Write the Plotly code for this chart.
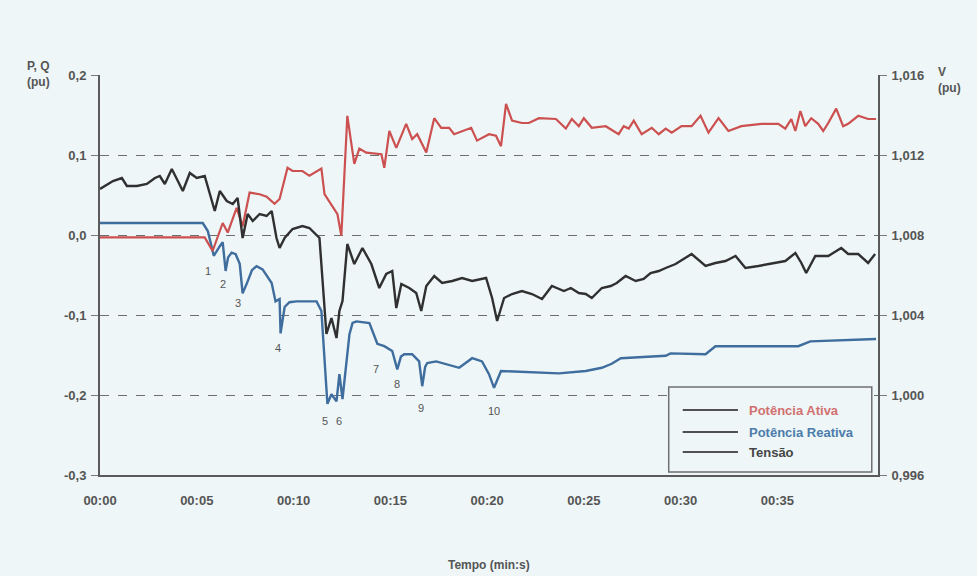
import plotly.graph_objects as go

# ---------------- data ----------------
# time in seconds (axis shows mm:ss)
t_p = [0, 5.41, 5.82, 6.34, 6.60, 7.06, 7.37, 7.73, 8.25, 8.61, 9.02, 9.28, 9.69, 9.95,
       10.46, 10.82, 11.44, 11.60, 12.27, 12.47, 12.78, 13.14, 13.40, 13.76, 14.54, 14.69,
       14.95, 15.31, 15.82, 16.13, 16.39, 16.86, 17.27, 17.63, 18.04, 18.30, 19.18, 19.48,
       20.10, 20.46, 20.72, 20.98, 21.29, 21.80, 22.16, 22.68, 23.56, 24.07, 24.38, 24.74,
       25.00, 25.41, 26.13, 26.80, 27.06, 27.32, 27.58, 27.99, 28.51, 28.87, 29.23, 29.54,
       30.05, 30.57, 31.03, 31.44, 31.96, 32.47, 33.14, 34.18, 35.05, 35.41, 35.72, 35.93,
       36.19, 36.44, 36.75, 37.11, 37.37, 37.63, 38.04, 38.40, 38.66, 39.18, 39.69, 40.10]
p_ativa = [-0.003, -0.003, -0.020, 0.015, 0.003, 0.034, 0.011, 0.053, 0.051, 0.048, 0.039,
           0.045, 0.084, 0.080, 0.080, 0.074, 0.083, 0.051, 0.026, -0.001, 0.149, 0.089,
           0.108, 0.103, 0.101, 0.084, 0.130, 0.109, 0.139, 0.120, 0.126, 0.103, 0.146,
           0.134, 0.134, 0.126, 0.134, 0.118, 0.126, 0.124, 0.111, 0.164, 0.143, 0.140,
           0.140, 0.146, 0.145, 0.133, 0.145, 0.136, 0.146, 0.134, 0.136, 0.126, 0.136,
           0.133, 0.143, 0.126, 0.134, 0.126, 0.133, 0.128, 0.136, 0.136, 0.149, 0.128,
           0.146, 0.130, 0.136, 0.139, 0.139, 0.133, 0.145, 0.130, 0.155, 0.136, 0.146,
           0.139, 0.130, 0.140, 0.158, 0.136, 0.139, 0.149, 0.145, 0.145]

t_q = [0, 5.31, 5.57, 5.88, 6.19, 6.34, 6.49, 6.62, 6.80, 7.01, 7.22, 7.37, 7.63, 7.85,
       8.09, 8.40, 8.87, 9.07, 9.28, 9.33, 9.54, 9.79, 10.15, 11.19, 11.44, 11.75, 11.96,
       12.22, 12.37, 12.53, 12.89, 13.05, 13.25, 13.92, 14.33, 14.69, 15.10, 15.36, 15.55,
       15.72, 16.13, 16.49, 16.65, 16.80, 16.91, 17.37, 18.56, 19.23, 19.74, 20.10, 20.36,
       20.72, 23.71, 25.10, 25.93, 26.44, 26.91, 29.23, 29.48, 31.29, 31.80, 36.08, 36.70,
       40.10]
q_reativa = [0.015, 0.015, 0.005, -0.026, -0.014, -0.009, -0.045, -0.028, -0.022, -0.024,
             -0.036, -0.073, -0.058, -0.044, -0.039, -0.043, -0.060, -0.083, -0.080, -0.123,
             -0.090, -0.084, -0.083, -0.083, -0.095, -0.211, -0.199, -0.208, -0.174, -0.205,
             -0.124, -0.110, -0.108, -0.110, -0.136, -0.139, -0.145, -0.168, -0.152, -0.149,
             -0.149, -0.158, -0.189, -0.165, -0.160, -0.158, -0.166, -0.154, -0.158, -0.174,
             -0.191, -0.170, -0.173, -0.170, -0.166, -0.161, -0.154, -0.151, -0.148, -0.149,
             -0.139, -0.139, -0.133, -0.130]

t_v = [0, 0.67, 1.13, 1.39, 1.91, 2.42, 2.84, 3.09, 3.35, 3.71, 3.97, 4.28, 4.64, 5.00,
       5.41, 5.67, 5.93, 6.19, 6.55, 6.86, 7.11, 7.37, 7.63, 7.89, 8.25, 8.61, 8.87, 9.12,
       9.28, 9.54, 9.95, 10.46, 10.82, 11.34, 11.70, 11.96, 12.22, 12.37, 12.53, 12.78,
       13.14, 13.56, 14.02, 14.43, 14.79, 15.10, 15.31, 15.57, 15.98, 16.34, 16.60, 16.86,
       17.27, 17.68, 18.20, 18.71, 19.23, 19.95, 20.26, 20.52, 20.88, 21.29, 21.80, 22.32,
       22.84, 23.35, 23.97, 24.33, 24.74, 25.10, 25.41, 25.93, 26.39, 26.70, 27.16, 27.68,
       28.09, 28.45, 28.87, 29.23, 29.74, 30.57, 31.29, 31.80, 32.32, 32.84, 33.35, 34.02,
       34.90, 35.41, 35.93, 36.24, 36.49, 36.96, 37.63, 38.30, 38.66, 39.18, 39.69, 40.05]
tensao = [1.0103, 1.0107, 1.01085, 1.01045, 1.01045, 1.01055, 1.01085, 1.01095, 1.01055,
          1.0113, 1.0108, 1.0102, 1.0111, 1.01085, 1.01095, 1.01005, 1.0092, 1.0102, 1.0097,
          1.00955, 1.00985, 1.00785, 1.00905, 1.0087, 1.00905, 1.00895, 1.0092, 1.00785,
          1.00735, 1.00785, 1.0083, 1.00845, 1.00835, 1.00785, 1.00305, 1.00385, 1.00285,
          1.0042, 1.0047, 1.00755, 1.00655, 1.00735, 1.00655, 1.00535, 1.00605, 1.0062,
          1.00435, 1.00555, 1.00535, 1.0051, 1.0042, 1.00545, 1.00595, 1.0056, 1.0057,
          1.00585, 1.0057, 1.00585, 1.00485, 1.0037, 1.00485, 1.00505, 1.0052, 1.00505,
          1.0048, 1.00545, 1.0052, 1.00535, 1.0051, 1.00505, 1.00485, 1.00535, 1.00545,
          1.0056, 1.00595, 1.0057, 1.0058, 1.0061, 1.0062, 1.00635, 1.00655, 1.00705,
          1.00645, 1.0066, 1.0067, 1.00695, 1.00635, 1.00645, 1.0066, 1.0067, 1.0071,
          1.0066, 1.0061, 1.00695, 1.00695, 1.00735, 1.00705, 1.00705, 1.0066, 1.00705]

x_tickvals = [0, 5, 10, 15, 20, 25, 30, 35]
x_ticktext = ["00:00", "00:05", "00:10", "00:15", "00:20", "00:25", "00:30", "00:35"]
pq_tickvals = [0.2, 0.1, 0.0, -0.1, -0.2, -0.3]
pq_ticktext = ["0,2", "0,1", "0,0", "-0,1", "-0,2", "-0,3"]
v_tickvals = [1.016, 1.012, 1.008, 1.004, 1.000, 0.996]
v_ticktext = ["1,016", "1,012", "1,008", "1,004", "1,000", "0,996"]

event_labels = ["1", "2", "3", "4", "5", "6", "7", "8", "9", "10"]
event_t = [5.57, 6.34, 7.11, 9.18, 11.60, 12.37, 14.28, 15.36, 16.60, 20.36]
event_q = [-0.045, -0.061, -0.085, -0.141, -0.2325, -0.2325, -0.1675, -0.186, -0.216, -0.22]

series_names = ["Potência Ativa", "Potência Reativa", "Tensão"]
series_colors = ["#cc5050", "#3e6d9e", "#303030"]
legend_text_colors = ["#d27070", "#4c7cab", "#454545"]

# ---------------- figure ----------------
BG = "#eef6f7"
FONT = "Liberation Sans Narrow, Arial Narrow, Liberation Sans, Arial, sans-serif"
TICKCOL = "#555555"

fig = go.Figure()
fig.add_trace(go.Scatter(x=t_v, y=tensao, mode="lines", yaxis="y2",
                         line=dict(color=series_colors[2], width=2.4), name=series_names[2]))
fig.add_trace(go.Scatter(x=t_q, y=q_reativa, mode="lines",
                         line=dict(color=series_colors[1], width=2.4), name=series_names[1]))
fig.add_trace(go.Scatter(x=t_p, y=p_ativa, mode="lines",
                         line=dict(color=series_colors[0], width=2.2), name=series_names[0]))

tickfont = dict(family=FONT, size=13, color=TICKCOL, weight="bold")

fig.update_layout(
    width=977, height=576,
    margin=dict(l=100, r=99, t=75, b=101),
    paper_bgcolor=BG, plot_bgcolor=BG,
    showlegend=False,
    xaxis=dict(range=[0, 40.2], tickvals=x_tickvals, ticktext=x_ticktext,
               showgrid=False, zeroline=False, showline=True, linecolor="#5a5a5a",
               linewidth=2, ticks="", tickfont=tickfont, ticklabelstandoff=12),
    yaxis=dict(range=[-0.3, 0.2], tickvals=pq_tickvals, ticktext=pq_ticktext,
               showgrid=True, gridcolor="#6e6e6e", griddash="dash", gridwidth=1,
               zeroline=False, showline=True, linecolor="#5a5a5a", linewidth=2,
               ticks="outside", ticklen=7, tickcolor="#7a7a7a", tickwidth=1,
               tickfont=tickfont, ticklabelstandoff=2),
    yaxis2=dict(range=[0.996, 1.016], tickvals=v_tickvals, ticktext=v_ticktext,
                overlaying="y", side="right", showgrid=False, zeroline=False,
                showline=True, linecolor="#5a5a5a", linewidth=2,
                ticks="outside", ticklen=7, tickcolor="#7a7a7a", tickwidth=1,
                tickfont=tickfont, ticklabelstandoff=2),
)

annos = []
# axis titles
annos.append(dict(text="<b>P, Q<br>(pu)</b>", xref="paper", yref="paper",
                  x=-0.062, y=1.045, xanchor="right", yanchor="top", showarrow=False,
                  align="left", font=dict(family=FONT, size=12, color=TICKCOL)))
annos.append(dict(text="<b>V<br>(pu)</b>", xref="paper", yref="paper",
                  x=1.075, y=1.03, xanchor="left", yanchor="top", showarrow=False,
                  align="left", font=dict(family=FONT, size=12, color=TICKCOL)))
annos.append(dict(text="<b>Tempo (min:s)</b>", xref="paper", yref="paper",
                  x=0.5, y=-0.225, xanchor="center", yanchor="middle", showarrow=False,
                  font=dict(family=FONT, size=12, color=TICKCOL)))
# event numbers
for lab, tx, qy in zip(event_labels, event_t, event_q):
    annos.append(dict(text=lab, x=tx, y=qy, xref="x", yref="y", showarrow=False,
                      font=dict(family=FONT, size=11, color="#555555")))

# custom legend (grey samples, coloured text)
shapes = [dict(type="rect", xref="paper", yref="paper", x0=0.731, x1=0.992, y0=0.0075,
               y1=0.22, line=dict(color="#707070", width=1.5), fillcolor=BG)]
leg_y = [0.1625, 0.1075, 0.0575]
for name, col, yy in zip(series_names, legend_text_colors, leg_y):
    shapes.append(dict(type="line", xref="paper", yref="paper", x0=0.749, x1=0.820,
                       y0=yy, y1=yy, line=dict(color="#505050", width=2)))
    annos.append(dict(text="<b>" + name + "</b>", xref="paper", yref="paper", x=0.832, y=yy,
                      xanchor="left", yanchor="middle", showarrow=False,
                      font=dict(family=FONT, size=13, color=col)))

fig.update_layout(annotations=annos, shapes=shapes)
fig.write_html(
    "out.html",
    config={"displayModeBar": False},
    post_script="document.body.style.margin='0';document.body.style.padding='0';"
                "document.body.style.background='" + BG + "';"
                "document.body.style.overflow='hidden';",
)
